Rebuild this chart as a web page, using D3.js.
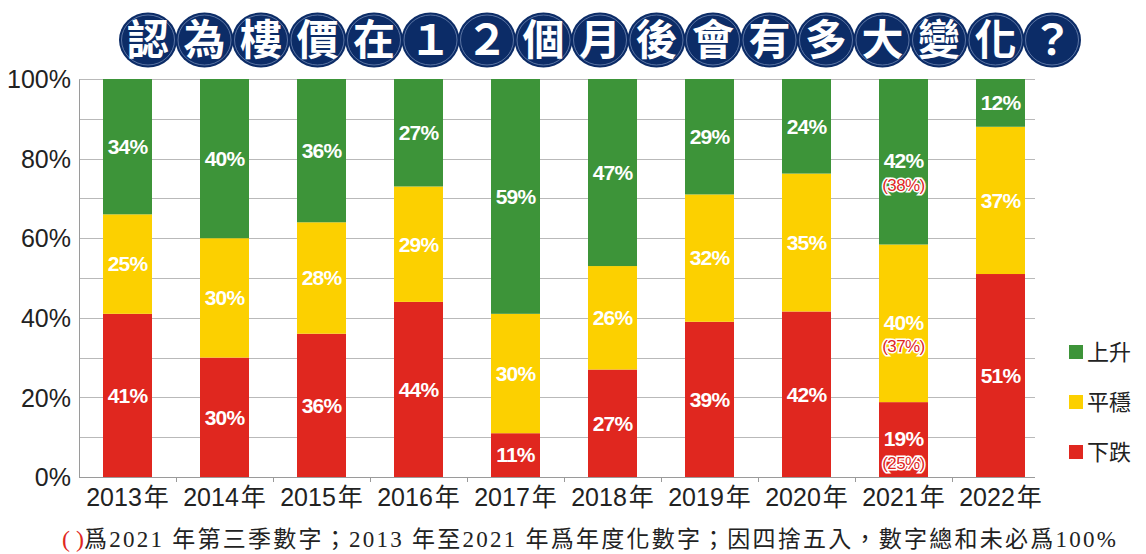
<!DOCTYPE html>
<html>
<head>
<meta charset="UTF-8">
<title>認為樓價在12個月後會有多大變化？</title>
<style>
  body { margin: 0; background: #fff; }
  svg text { font-family: "Liberation Sans", Arial, "Noto Sans CJK TC", sans-serif; }
</style>
</head>
<body>
<div id="chart"></div>
<script src="https://d3js.org/d3.v7.min.js"></script>
<script>
var years = ["2013年","2014年","2015年","2016年","2017年","2018年","2019年","2020年","2021年","2022年"];
var fall = [41, 30, 36, 44, 11, 27, 39, 42, 19, 51];   // 下跌
var flat = [25, 30, 28, 29, 30, 26, 32, 35, 40, 37];   // 平穩
var rise = [34, 40, 36, 27, 59, 47, 29, 24, 42, 12];   // 上升
var q3_2021 = { fall: 25, flat: 37, rise: 38 };
var yTicks = [0, 20, 40, 60, 80, 100];
var titleChars = "認為樓價在１２個月後會有多大變化？".split("");
var legendItems = [["上升", "rise"], ["平穩", "flat"], ["下跌", "fall"]];

var colors = { fall: "#e0271f", flat: "#fcd000", rise: "#3d9439" };

var W = 1146, H = 554;
var mLeft = 79, mRight = 1035, mTop = 79, mBottom = 477;

var svg = d3.select("#chart").append("svg").attr("width", W).attr("height", H);

var rows = years.map(function(y, i){ return { year: y, fall: fall[i], flat: flat[i], rise: rise[i] }; });
var keys = ["fall", "flat", "rise"];
var stack = d3.stack().keys(keys).offset(d3.stackOffsetExpand)(rows);

var x = d3.scaleBand().domain(years).range([mLeft, mLeft + 97 * 10]).paddingInner(0.495).paddingOuter(0.2475);
var y = d3.scaleLinear().domain([0, 1]).range([mBottom, mTop]);

// grid lines every 10%
svg.append("g").selectAll("line").data(d3.range(1, 11)).enter().append("line")
  .attr("x1", mLeft).attr("x2", mRight)
  .attr("y1", function(d){ return Math.round(y(d / 10)) + 0.5; })
  .attr("y2", function(d){ return Math.round(y(d / 10)) + 0.5; })
  .attr("stroke", "#b9b9b9").attr("stroke-width", 1);

// y axis
var yAxis = d3.axisLeft(d3.scaleLinear().domain([0, 100]).range([mBottom, mTop]))
  .tickValues(yTicks).tickFormat(function(d){ return d + "%"; }).tickSize(0).tickPadding(8);
var gy = svg.append("g").attr("transform", "translate(" + mLeft + ",0)").call(yAxis);
gy.select(".domain").attr("stroke", "#9a9a9a");
gy.selectAll("text").attr("font-size", 25).attr("fill", "#222").attr("dy", "0.35em");

// x axis
svg.append("line").attr("x1", mLeft).attr("x2", mRight).attr("y1", mBottom + 0.5).attr("y2", mBottom + 0.5)
  .attr("stroke", "#9a9a9a");
svg.append("g").selectAll("line").data(years.slice(1)).enter().append("line")
  .attr("x1", function(d){ return Math.round(x(d) - x.step() * x.paddingInner() / 2) + 0.5; })
  .attr("x2", function(d){ return Math.round(x(d) - x.step() * x.paddingInner() / 2) + 0.5; })
  .attr("y1", mBottom).attr("y2", mBottom + 5).attr("stroke", "#9a9a9a");
var xl = svg.append("g").selectAll("text").data(years).enter().append("text")
  .attr("x", function(d){ return x(d) + x.bandwidth() / 2; })
  .attr("y", 506).attr("text-anchor", "middle")
  .attr("font-size", 25).attr("fill", "#222");
xl.append("tspan").text(function(d){ return d.slice(0, 4); });
xl.append("tspan").attr("dx", 2).text("年");

// bars
var layer = svg.append("g").selectAll("g").data(stack).enter().append("g")
  .attr("fill", function(d){ return colors[d.key]; });
layer.selectAll("rect").data(function(d){ return d; }).enter().append("rect")
  .attr("x", function(d){ return x(d.data.year); })
  .attr("width", x.bandwidth())
  .attr("y", function(d){ return y(d[1]); })
  .attr("height", function(d){ return y(d[0]) - y(d[1]); });

// value labels
stack.forEach(function(s){
  s.forEach(function(d){
    var cy = (y(d[0]) + y(d[1])) / 2;
    var is21 = d.data.year === "2021年";
    var off = is21 ? -1 : 0;
    svg.append("text")
      .attr("x", x(d.data.year) + x.bandwidth() / 2)
      .attr("y", cy + off).attr("dy", "0.35em")
      .attr("text-anchor", "middle").attr("font-size", 21).attr("font-weight", "bold")
      .attr("fill", "#fff").attr("letter-spacing", -0.8)
      .text(d.data[s.key] + "%");
    if (is21) {
      svg.append("text")
        .attr("x", x(d.data.year) + x.bandwidth() / 2)
        .attr("y", cy + off + 24).attr("dy", "0.35em")
        .attr("text-anchor", "middle").attr("font-size", 17)
        .attr("fill", "#e0271f").attr("stroke", "#fff").attr("stroke-width", 3)
        .attr("paint-order", "stroke").attr("letter-spacing", -0.6)
        .text("(" + q3_2021[s.key] + "%)");
    }
  });
});

// legend
var lg = svg.append("g").selectAll("g").data(legendItems).enter().append("g")
  .attr("transform", function(d, i){ return "translate(1069," + (345 + i * 50) + ")"; });
lg.append("rect").attr("width", 14).attr("height", 14)
  .attr("fill", function(d){ return colors[d[1]]; });
lg.append("text").attr("x", 18).attr("y", 7).attr("dy", "0.38em")
  .attr("font-size", 22).attr("fill", "#222")
  .style("font-family", "'Noto Sans CJK TC', sans-serif")
  .text(function(d){ return d[0]; });

// title: each character in a navy ellipse
var tg = svg.append("g").selectAll("g").data(titleChars).enter().append("g")
  .attr("transform", function(d, i){ return "translate(" + (148 + i * 56.5) + ",40)"; });
tg.append("ellipse").attr("rx", 29).attr("ry", 27.5).attr("fill", "#0c2c67");
tg.append("ellipse").attr("rx", 26.5).attr("ry", 25).attr("fill", "none")
  .attr("stroke", "#6f86b3").attr("stroke-width", 0.8);
tg.append("text").attr("text-anchor", "middle").attr("dy", "0.36em")
  .attr("font-size", 42).attr("font-weight", 700).attr("fill", "#fff")
  .style("font-family", "'Noto Sans CJK TC', sans-serif")
  .text(function(d){ return d; });

// footnote
var fn = svg.append("text").attr("x", 62).attr("y", 547).attr("font-size", 23)
  .style("font-family", "'Liberation Serif', 'Noto Sans CJK TC', serif").attr("fill", "#222");
fn.append("tspan").attr("fill", "#e0271f").attr("font-size", 24).text("( )");
fn.append("tspan").attr("textLength", 1032).attr("lengthAdjust", "spacing")
  .text("爲2021 年第三季數字；2013 年至2021 年爲年度化數字；因四捨五入，數字總和未必爲100%");
</script>
</body>
</html>
